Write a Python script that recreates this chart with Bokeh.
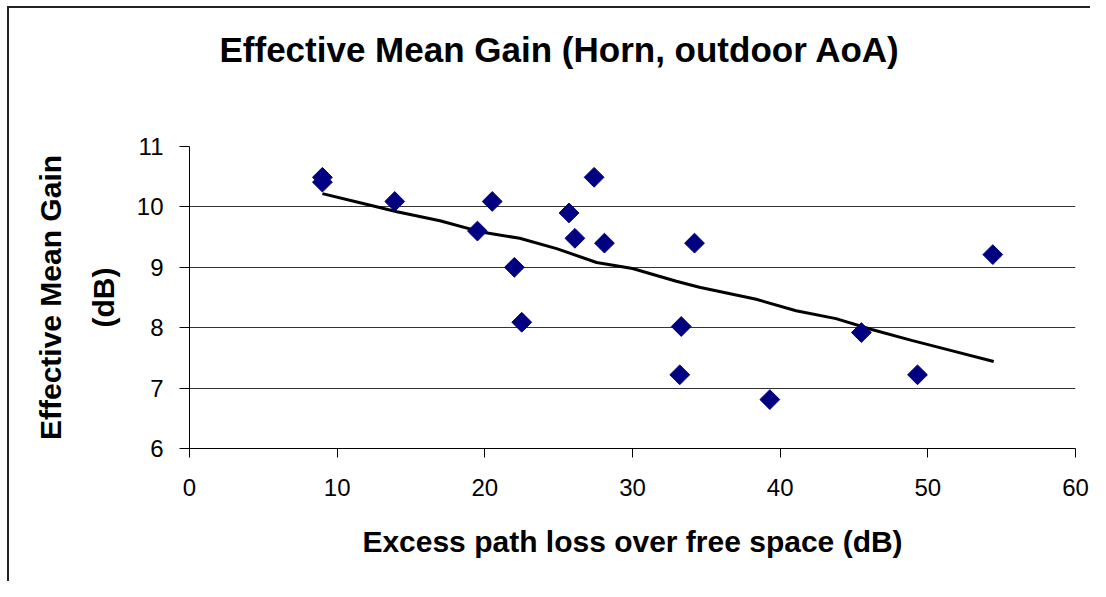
from bokeh.plotting import figure
from bokeh.models import Range1d, FixedTicker
from bokeh.embed import file_html
from bokeh.resources import INLINE
import math

# Data
excess_loss = [9.0, 9.0, 13.9, 19.5, 20.5, 22.0, 22.5, 25.7, 26.1, 27.4, 28.1,
               34.2, 33.3, 33.2, 39.3, 45.5, 49.3, 54.4]
mean_gain = [10.49, 10.41, 10.09, 9.6, 10.09, 9.0, 8.09, 9.9, 9.48, 10.49, 9.4,
             9.4, 8.02, 7.22, 6.81, 7.92, 7.22, 9.21]

trend_x = [9.0, 11.55, 14.05, 16.96, 19.66, 22.36, 24.86, 27.57, 30.0, 32.97,
           34.53, 38.38, 41.08, 43.78, 46.2, 48.9, 51.6, 54.46]
trend_y = [10.22, 10.07, 9.92, 9.77, 9.59, 9.48, 9.31, 9.08, 8.98, 8.77,
           8.67, 8.47, 8.28, 8.15, 7.97, 7.79, 7.62, 7.44]

x_ticks = [0, 10, 20, 30, 40, 50, 60]
y_ticks = [6, 7, 8, 9, 10, 11]

TITLE = "Effective Mean Gain (Horn, outdoor AoA)"
FONT = "Liberation Sans"

p = figure(width=1090, height=581, output_backend="svg", toolbar_location=None,
           x_range=Range1d(0, 60), y_range=Range1d(6, 11),
           min_border_left=189, min_border_right=15, min_border_top=146,
           min_border_bottom=133, frame_width=886, frame_height=302,
           title=TITLE + "\n\u00a0")
p.styles = {
    "background-color": "white",
    "background-image": "linear-gradient(#222222, #222222), linear-gradient(#222222, #222222)",
    "background-size": "2px 575px, 1083px 2px",
    "background-position": "7px 6px, 7px 6px",
    "background-repeat": "no-repeat",
}

# a blank second title line keeps the title text well above the frame
p.title.align = "left"
p.title.offset = 30
p.title.vertical_align = "bottom"
p.title.standoff = 0
p.title.text_line_height = 2.0
p.title.text_font = FONT
p.title.text_font_size = "35px"
p.title.text_font_style = "bold"
p.title.text_color = "black"

p.outline_line_color = None
p.background_fill_color = "white"
p.border_fill_color = None

p.xgrid.grid_line_color = None
p.ygrid.grid_line_color = "black"
p.ygrid.grid_line_width = 1
p.ygrid.grid_line_alpha = 0.8

p.xaxis.ticker = FixedTicker(ticks=x_ticks)
p.yaxis.ticker = FixedTicker(ticks=y_ticks)
for ax in (p.xaxis, p.yaxis):
    ax.axis_line_color = "black"
    ax.axis_line_width = 1
    ax.major_tick_line_color = "black"
    ax.major_tick_in = 0
    ax.minor_tick_line_color = None
    ax.major_label_text_font = FONT
    ax.major_label_text_font_size = "24px"
    ax.major_label_text_color = "black"
    ax.axis_label_text_font = FONT
    ax.axis_label_text_font_size = "30px"
    ax.axis_label_text_font_style = "bold"
    ax.axis_label_text_color = "black"

p.xaxis.major_tick_out = 9
p.yaxis.major_tick_out = 10
p.xaxis.axis_label = "Excess path loss over free space (dB)"
p.xaxis.major_label_standoff = 21
p.xaxis.axis_label_standoff = 26
p.yaxis.axis_label = "Effective Mean Gain\n(dB)"
p.yaxis.axis_label_text_line_height = 1.6
p.yaxis.major_label_standoff = 16
p.yaxis.axis_label_standoff = 14

p.line(trend_x, trend_y, line_color="black", line_width=3)
p.scatter(excess_loss, mean_gain, marker="square", size=14, angle=math.pi / 4,
          fill_color="#000080", line_color="#000080")

open("out.html", "w").write(file_html(p, INLINE))
